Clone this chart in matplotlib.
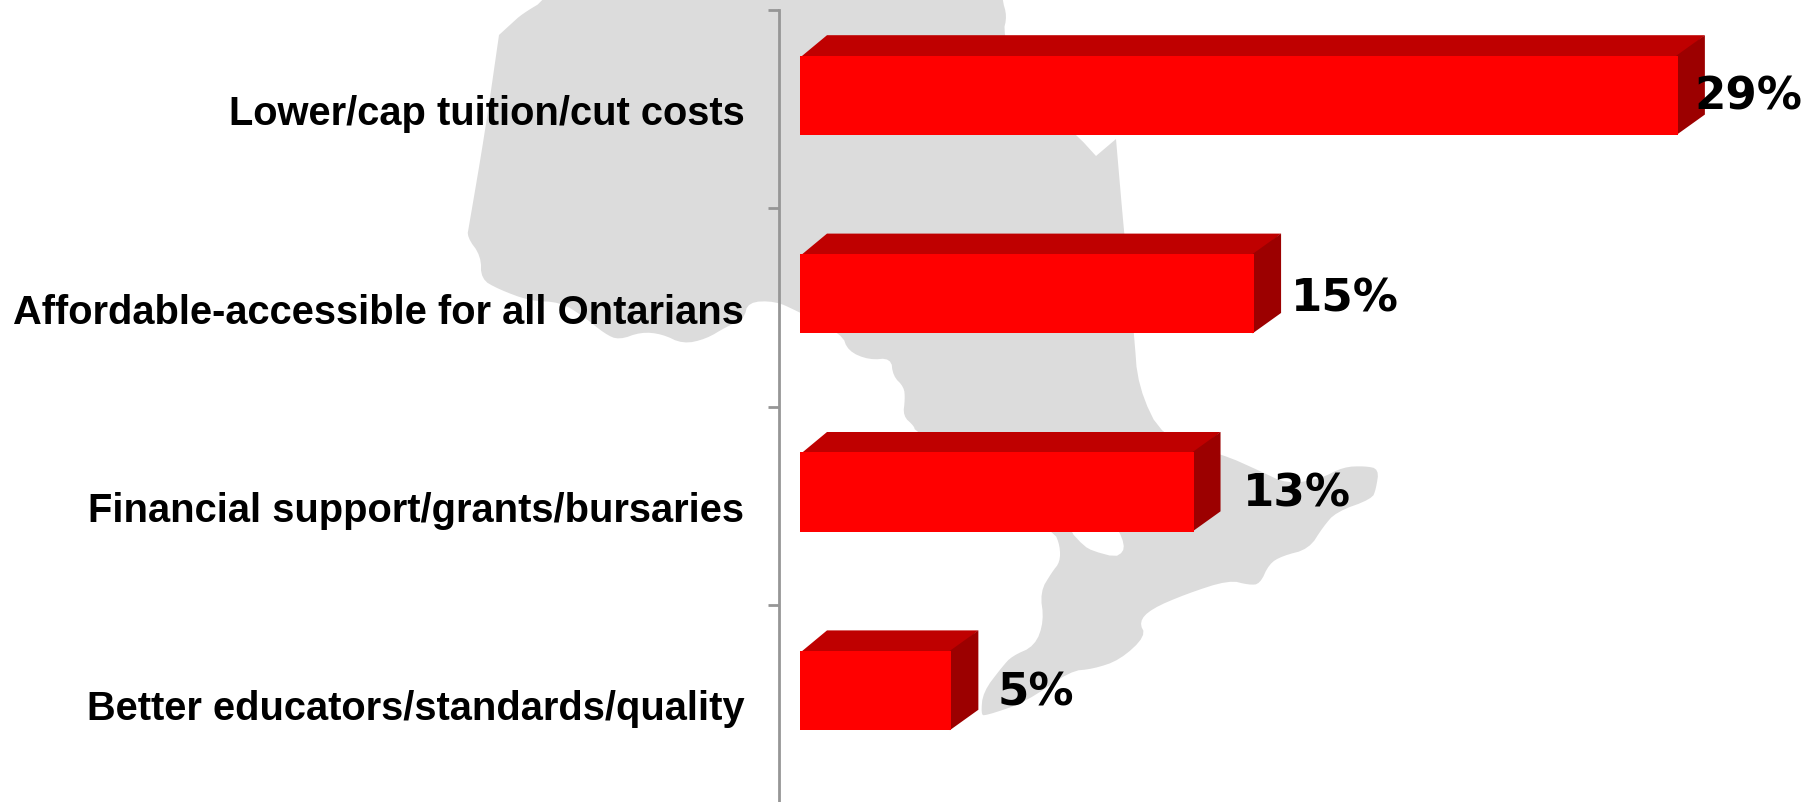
import matplotlib
matplotlib.use('Agg')
import matplotlib.pyplot as plt
from matplotlib.patches import Polygon

# Chart data
categories = [
    'Lower/cap tuition/cut costs',
    'Affordable-accessible for all Ontarians',
    'Financial support/grants/bursaries',
    'Better educators/standards/quality',
]
values = [29, 15, 13, 5]

# Ontario silhouette behind the chart, in pixels of the image
map_x = [547, 522, 511, 499, 499, 485, 469, 467, 481, 481, 498, 530, 560, 583, 605, 619, 641, 662, 683,
         706, 726, 744, 748, 775, 797, 842, 848, 869, 891, 893, 904, 905, 903, 914, 915, 1054, 1060,
         1060, 1052, 1040, 1044, 1035, 1012, 1002, 983, 981, 985, 1026, 1070, 1093, 1120, 1146, 1139,
         1151, 1186, 1229, 1249, 1260, 1269, 1282, 1309, 1323, 1336, 1372, 1376, 1379, 1365, 1343,
         1320, 1287, 1260, 1222, 1163, 1138, 1134, 1124, 1116, 1116, 1096, 1096, 1076, 1020, 1003, 1007, 1002, 1002, 547]
map_y = [0, 15, 25, 36, 36, 133, 227, 238, 257, 280, 290, 302, 303, 317, 335, 341, 333, 335, 345,
         340, 328, 320, 303, 302, 312, 335, 352, 361, 359, 377, 388, 400, 417, 427, 432, 532, 547,
         563, 573, 593, 622, 647, 657, 668, 693, 715, 717, 703, 672, 670, 661, 637, 623,
         610, 595, 581, 586, 585, 565, 557, 550, 528, 513, 500, 490, 470, 467, 468,
         480, 485, 472, 455, 440, 388, 334, 233, 140, 140, 157, 157, 135, 90, 34, 17, 0, -30, -30]
bay_x = [1060, 1070, 1084, 1093, 1115, 1123, 1124, 1119, 1100]
bay_y = [500, 532, 547, 552, 558, 553, 545, 532, 500]


# Rounds the corners of the traced outline
def smooth(xs, ys, passes=2):
    pts = list(zip(xs, ys))
    for _ in range(passes):
        new_pts = []
        for k in range(len(pts)):
            a = pts[k]
            b = pts[(k + 1) % len(pts)]
            new_pts.append((0.75 * a[0] + 0.25 * b[0], 0.75 * a[1] + 0.25 * b[1]))
            new_pts.append((0.25 * a[0] + 0.75 * b[0], 0.25 * a[1] + 0.75 * b[1]))
        pts = new_pts
    return pts


plt.rcParams['font.family'] = ['Liberation Sans', 'DejaVu Sans']

WIDTH, HEIGHT = 1815, 803
fig = plt.figure(figsize=(WIDTH / 100, HEIGHT / 100), dpi=100, facecolor='white')

# Background map
bg = fig.add_axes([0, 0, 1, 1], zorder=0)
bg.set_xlim(0, WIDTH)
bg.set_ylim(HEIGHT, 0)
bg.axis('off')
bg.add_patch(Polygon(smooth(map_x, map_y), closed=True, facecolor='#dcdcdc', edgecolor='none'))
bg.add_patch(Polygon(smooth(bay_x, bay_y, 1), closed=True, facecolor='white', edgecolor='none'))

# Axes: value 0 sits 21 px right of the axis line, one category is 198.4 px
left, right, top, bottom = 779, WIDTH, 11, 804.6
ax = fig.add_axes([left / WIDTH, (HEIGHT - bottom) / HEIGHT, (right - left) / WIDTH, (bottom - top) / HEIGHT], zorder=1)
ax.patch.set_alpha(0)
ax.set_xlim(-0.694, 33.53)
ax.set_ylim(4, 0)

for s in ['top', 'right', 'bottom']:
    ax.spines[s].set_visible(False)
ax.spines['left'].set_color('#969696')
ax.spines['left'].set_linewidth(2)
ax.set_xticks([])
ax.set_yticks(range(5))
ax.tick_params(axis='y', which='major', length=8, width=2, color='#969696', labelleft=False)

ax.set_yticks([i + 0.5 for i in range(4)], minor=True)
ax.set_yticklabels(categories, minor=True, fontweight='bold', fontsize=28.75, color='black')
ax.tick_params(axis='y', which='minor', length=0, pad=25)

# Fake 3D bars: side and top first, front face over them to hide the seams
depth_x = 0.892
depth_y = 0.103
bar_h = 0.40
shift = -0.070
label_dx = [70, 91, 103, 84]
label_dy = [-13, -10, -13, -12]

for i, v in enumerate(values):
    y0 = i + 0.5 + shift - bar_h / 2
    y1 = y0 + bar_h
    ax.add_patch(Polygon([(0, y0 + 0.01), (depth_x, y0 - depth_y), (v + depth_x, y0 - depth_y), (v, y0 + 0.01)],
                         closed=True, facecolor='#bf0000', edgecolor='none', zorder=2))
    ax.add_patch(Polygon([(v - 0.05, y0), (v + depth_x, y0 - depth_y), (v + depth_x, y1 - depth_y), (v - 0.05, y1)],
                         closed=True, facecolor='#9c0000', edgecolor='none', zorder=2))
    ax.barh(i + 0.5 + shift, v, height=bar_h, color='#ff0000', linewidth=0, zorder=3)
    ax.annotate('%d%%' % v, (v, i + 0.5), xytext=(label_dx[i] * 0.72, -label_dy[i] * 0.72),
                textcoords='offset points', ha='center', va='center', family='DejaVu Sans',
                fontweight='bold', fontsize=32.5, color='black', zorder=4)

fig.savefig('out.png', dpi=100)
